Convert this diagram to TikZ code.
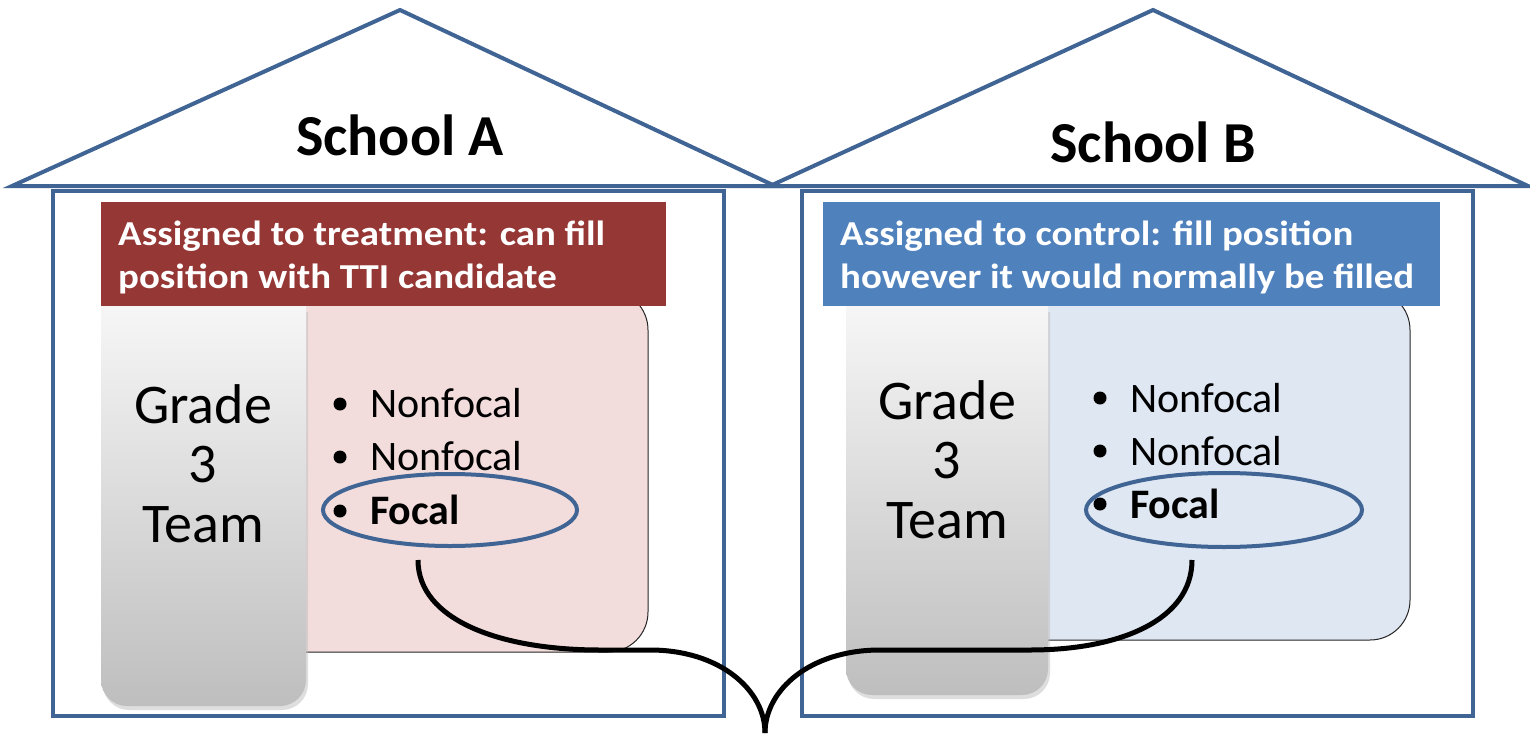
\documentclass[tikz,border=0pt]{standalone}
\usepackage{fontspec}
\setmainfont{Carlito}
\usetikzlibrary{shapes.geometric,shadows}
\definecolor{houseblue}{RGB}{64,100,148}
\definecolor{treatred}{RGB}{149,55,53}
\definecolor{ctrlblue}{RGB}{79,129,189}
\definecolor{pinkfill}{RGB}{242,221,220}
\definecolor{bluefill}{RGB}{223,231,242}
\definecolor{gradetop}{RGB}{246,246,246}
\definecolor{gradebot}{RGB}{190,190,190}
\tikzset{
  house/.style={draw=houseblue, line width=4pt, line join=miter},
  banner/.style={fill=#1, draw=none},
  bannertext/.style={text=white, font=\fontsize{35}{43}\selectfont\bfseries, anchor=base west, inner sep=0pt, xscale=1.11, transform shape},
  listbox/.style={fill=#1, draw=black!85, line width=1pt, rounded corners=40pt},
  gradecol/.style={top color=gradetop, bottom color=gradebot, draw=none},
  gradetext/.style={font=\fontsize{56}{60}\selectfont, anchor=base, inner sep=0pt},
  itemtext/.style={font=\fontsize{42}{53}\selectfont, anchor=base west, inner sep=0pt},
  bullet/.style={circle, fill=black, inner sep=0pt, minimum size=13pt},
  focusring/.style={ellipse, draw=houseblue, line width=4pt, inner sep=0pt},
  title/.style={font=\fontsize{58}{60}\selectfont\bfseries, anchor=base, inner sep=0pt},
  brace/.style={draw=black, line width=5pt}
}
\begin{document}
\begin{tikzpicture}[x=1pt, y=-1pt]
\useasboundingbox (0,0) rectangle (1530,733);
\fill[white] (0,0) rectangle (1530,733);

% ---- School A ----
\draw[house] (12,186) -- (400,10) -- (775,186) -- cycle;
\draw[house] (53,191) rectangle (724,716);
\node[title] (titleA) at (400,155) {School A};

\path[listbox=pinkfill] (200,290) rectangle (648,652);
\fill[black!25, opacity=0.5] (103,312) -- (308,312) [rounded corners=26pt] -- (308,710) -- (103,710) [sharp corners] -- cycle;
\shade[gradecol] (101,306) -- (306,306) [rounded corners=26pt] -- (306,706) -- (101,706) [sharp corners] -- cycle;
\fill[banner=treatred] (101,202) rectangle (666,306);
\node[bannertext] (bannerA1) at (118,245) {Assigned to treatment: can fill};
\node[bannertext] (bannerA2) at (118,288) {position with TTI candidate};

\node[gradetext] (gA1) at (203,423) {Grade};
\node[gradetext] (gA2) at (203,482) {3};
\node[gradetext] (gA3) at (203,542) {Team};

\node[bullet] (bA1) at (340,404) {};
\node[bullet] (bA2) at (340,457) {};
\node[bullet] (bA3) at (340,511) {};
\node[itemtext] (iA1) at (370,417) {Nonfocal};
\node[itemtext] (iA2) at (370,470) {Nonfocal};
\node[itemtext, font=\fontsize{42}{53}\selectfont\bfseries] (iA3) at (370,524) {Focal};
\node[focusring, minimum width=254pt, minimum height=72pt] (ringA) at (450,510) {};

% ---- School B ----
\draw[house] (770,186) -- (1153,10) -- (1528,186) -- cycle;
\draw[house] (802,191) rectangle (1473,716);
\node[title] (titleB) at (1153,162) {School B};

\path[listbox=bluefill] (950,290) rectangle (1410,640);
\fill[black!25, opacity=0.5] (848,312) -- (1050,312) [rounded corners=26pt] -- (1050,699) -- (848,699) [sharp corners] -- cycle;
\shade[gradecol] (846,306) -- (1048,306) [rounded corners=26pt] -- (1048,695) -- (846,695) [sharp corners] -- cycle;
\fill[banner=ctrlblue] (823,202) rectangle (1440,306);
\node[bannertext] (bannerB1) at (840,245) {Assigned to control: fill position};
\node[bannertext] (bannerB2) at (840,288) {however it would normally be filled};

\node[gradetext] (gB1) at (947,419) {Grade};
\node[gradetext] (gB2) at (947,478) {3};
\node[gradetext] (gB3) at (947,538) {Team};

\node[bullet] (bB1) at (1100,398) {};
\node[bullet] (bB2) at (1100,451) {};
\node[bullet] (bB3) at (1100,504) {};
\node[itemtext] (iB1) at (1130,412) {Nonfocal};
\node[itemtext] (iB2) at (1130,465) {Nonfocal};
\node[itemtext, font=\fontsize{42}{53}\selectfont\bfseries] (iB3) at (1130,518) {Focal};
\node[focusring, minimum width=276pt, minimum height=74pt] (ringB) at (1224,510) {};

% ---- brace joining the two focal positions ----
\coordinate (startA) at (418,560);
\coordinate (startB) at (1192,560);
\coordinate (tip) at (765,733);
\draw[brace] (startA) .. controls (418,620) and (500,650) .. (600,650)
  -- (650,650) .. controls (720,650) and (765,690) .. (tip);
\draw[brace] (startB) .. controls (1192,620) and (1120,650) .. (1030,650)
  -- (880,650) .. controls (810,650) and (765,690) .. (tip);
\end{tikzpicture}
\end{document}
